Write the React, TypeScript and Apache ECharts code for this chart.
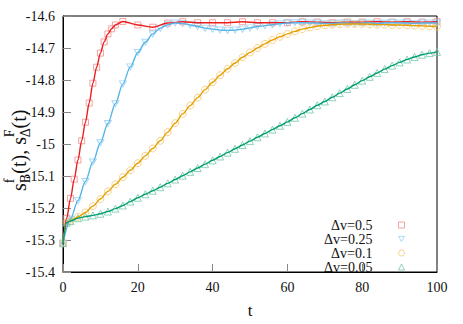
import React, { useEffect, useRef } from 'react';
import * as echarts from 'echarts';

const seriesNames = ['Δv=0.5', 'Δv=0.25', 'Δv=0.1', 'Δv=0.05'];

const tRed = [0, 1, 2, 3, 4, 5, 6, 7, 8, 9, 10, 11, 12, 13, 14, 16, 20, 24, 28, 32, 36, 40, 44, 48, 52, 56, 60, 64, 68, 72, 76, 80, 84, 88, 92, 96, 100];
const vRed = [-15.31, -15.232, -15.17, -15.11, -15.05, -14.99, -14.932, -14.872, -14.81, -14.76, -14.716, -14.681, -14.656, -14.64, -14.628, -14.617, -14.628, -14.635, -14.622, -14.618, -14.621, -14.621, -14.621, -14.618, -14.621, -14.621, -14.621, -14.618, -14.619, -14.621, -14.619, -14.619, -14.618, -14.619, -14.618, -14.619, -14.618];

const tBlue = [0, 2, 4, 6, 8, 10, 12, 14, 16, 18, 20, 22, 24, 26, 28, 30, 32, 34, 36, 38, 40, 42, 44, 46, 48, 50, 52, 54, 56, 58, 60, 62, 64, 66, 68, 70, 72, 74, 76, 78, 80, 82, 84, 86, 88, 90, 92, 94, 96, 98, 100];
const vBlue = [-15.31, -15.235, -15.177, -15.117, -15.056, -14.996, -14.936, -14.874, -14.812, -14.759, -14.714, -14.682, -14.656, -14.638, -14.627, -14.622, -14.623, -14.628, -14.633, -14.638, -14.641, -14.644, -14.645, -14.644, -14.641, -14.637, -14.633, -14.63, -14.627, -14.624, -14.622, -14.621, -14.621, -14.622, -14.622, -14.623, -14.623, -14.622, -14.622, -14.623, -14.622, -14.622, -14.623, -14.622, -14.621, -14.622, -14.622, -14.623, -14.622, -14.622, -14.622];

const tSlow = [0, 1, 2, 4, 6, 8, 10, 12, 14, 16, 18, 20, 22, 24, 26, 28, 30, 32, 34, 36, 38, 40, 42, 44, 46, 48, 50, 52, 54, 56, 58, 60, 62, 64, 66, 68, 70, 72, 74, 76, 78, 80, 82, 84, 86, 88, 90, 92, 94, 96, 98, 100];
const vOrange = [-15.31, -15.246, -15.24, -15.228, -15.214, -15.194, -15.172, -15.148, -15.126, -15.104, -15.082, -15.06, -15.037, -15.014, -14.99, -14.963, -14.935, -14.906, -14.88, -14.855, -14.83, -14.807, -14.785, -14.765, -14.747, -14.729, -14.714, -14.7, -14.687, -14.675, -14.665, -14.656, -14.648, -14.641, -14.636, -14.632, -14.629, -14.627, -14.626, -14.625, -14.625, -14.625, -14.626, -14.627, -14.627, -14.628, -14.628, -14.629, -14.63, -14.631, -14.632, -14.633];
const vGreen = [-15.31, -15.246, -15.241, -15.232, -15.227, -15.223, -15.218, -15.211, -15.202, -15.192, -15.18, -15.168, -15.157, -15.146, -15.135, -15.123, -15.111, -15.099, -15.087, -15.075, -15.063, -15.051, -15.039, -15.027, -15.015, -15.003, -14.991, -14.979, -14.967, -14.955, -14.943, -14.931, -14.918, -14.905, -14.892, -14.879, -14.867, -14.854, -14.841, -14.828, -14.815, -14.802, -14.79, -14.778, -14.766, -14.755, -14.745, -14.736, -14.728, -14.721, -14.716, -14.712];

const SERIF = 'Liberation Serif';

const TRI_DOWN = 'path://M0,0L10,0L5,8.66Z';

export default function App() {
  const ref = useRef<HTMLDivElement>(null);
  useEffect(() => {
    const chart = echarts.init(ref.current!, null, { renderer: 'svg' });
    const groups = [
      { name: seriesNames[0], t: tRed, v: vRed, line: '#ee1c1c', mark: '#f28b8b', symbol: 'rect', size: 6 },
      { name: seriesNames[1], t: tBlue, v: vBlue, line: '#56b4e9', mark: '#94d0f4', symbol: TRI_DOWN, size: [7, 6] },
      { name: seriesNames[2], t: tSlow, v: vOrange, line: '#e69f00', mark: '#f4c76a', symbol: 'circle', size: 7 },
      { name: seriesNames[3], t: tSlow, v: vGreen, line: '#009e73', mark: '#73c8a8', symbol: 'triangle', size: 7 },
    ];
    const series: any[] = [];
    groups.forEach((g) => {
      const data = g.t.map((t, i) => [t, g.v[i]]);
      series.push({
        type: 'scatter',
        name: g.name,
        data,
        symbol: g.symbol,
        symbolSize: g.size,
        itemStyle: { color: 'rgba(255,255,255,0)', borderColor: g.mark, borderWidth: 1 },
        z: 2,
      });
    });
    groups.forEach((g) => {
      const data = g.t.map((t, i) => [t, g.v[i]]);
      series.push({
        type: 'line',
        name: 'fit ' + g.name,
        data,
        showSymbol: false,
        smooth: 0.3,
        smoothMonotone: 'x',
        lineStyle: { color: g.line, width: 1.4 },
        itemStyle: { color: g.line },
        z: 3,
      });
    });

    const labelRich = { v: { fontFamily: SERIF, fontSize: 14, color: '#111' } };
    const yl = { fill: '#111', verticalAlign: 'middle' as const };
    const option: any = {
      animation: false,
      backgroundColor: '#fff',
      textStyle: { fontFamily: SERIF },
      grid: { left: 63, right: 26, top: 16, bottom: 46, show: true, borderColor: '#000', borderWidth: 1, containLabel: false },
      xAxis: {
        type: 'value', min: 0, max: 100, interval: 20,
        axisLine: { show: true, lineStyle: { color: '#000', width: 1 } },
        axisTick: { show: true, inside: true, length: 8, lineStyle: { color: '#888' } },
        axisLabel: { margin: 8, fontFamily: SERIF, fontSize: 14, color: '#111', formatter: '{v|{value}}', rich: labelRich },
        splitLine: { show: false },
        name: '{n|t}', nameLocation: 'middle', nameGap: 30,
        nameTextStyle: { fontFamily: SERIF, fontSize: 17, color: '#111', rich: { n: { fontFamily: SERIF, fontSize: 17, color: '#111' } } },
      },
      yAxis: {
        type: 'value', min: -15.4, max: -14.6, interval: 0.1,
        axisLine: { show: true, lineStyle: { color: '#000', width: 1 } },
        axisTick: { show: true, inside: true, length: 8, lineStyle: { color: '#888' } },
        axisLabel: { margin: 8, fontFamily: SERIF, fontSize: 14, color: '#111', formatter: '{v|{value}}', rich: labelRich },
        splitLine: { show: false },
      },
      legend: {
        orient: 'vertical', right: 58, top: 218, padding: 0, itemGap: 0, align: 'right',
        itemWidth: 6, itemHeight: 6,
        formatter: (name: string) => `{a|${name}}`,
        textStyle: {
          fontFamily: SERIF, fontSize: 14, color: '#111', lineHeight: 14, padding: [0, 21, 0, 0],
          rich: { a: { width: 52, align: 'right', fontFamily: SERIF, fontSize: 14, color: '#111', lineHeight: 14 } },
        },
        itemStyle: { borderWidth: 1 },
        data: seriesNames,
      },
      graphic: [
        {
          type: 'group', x: 19, y: 191, rotation: Math.PI / 2,
          children: [
            { type: 'text', x: 0, y: 0, style: { ...yl, text: 's', font: `20px ${SERIF}` } },
            { type: 'text', x: 7.8, y: 6, style: { ...yl, text: 'B', font: `14px ${SERIF}` } },
            { type: 'text', x: 7.8, y: -10, style: { ...yl, text: 'f', font: `14px ${SERIF}` } },
            { type: 'text', x: 17.3, y: 0, style: { ...yl, text: '(t), s', font: `20px ${SERIF}` } },
            { type: 'text', x: 53.8, y: 6, style: { ...yl, text: 'Δ', font: `14px ${SERIF}` } },
            { type: 'text', x: 53.8, y: -10, style: { ...yl, text: 'F', font: `14px ${SERIF}` } },
            { type: 'text', x: 62.5, y: 0, style: { ...yl, text: '(t)', font: `20px ${SERIF}` } },
          ],
        },
      ],
      series,
    };
    chart.setOption(option);
    return () => chart.dispose();
  }, []);
  return <div ref={ref} style={{ position: 'fixed', left: 0, top: 0, width: 463, height: 324, background: '#fff' }} />;
}
